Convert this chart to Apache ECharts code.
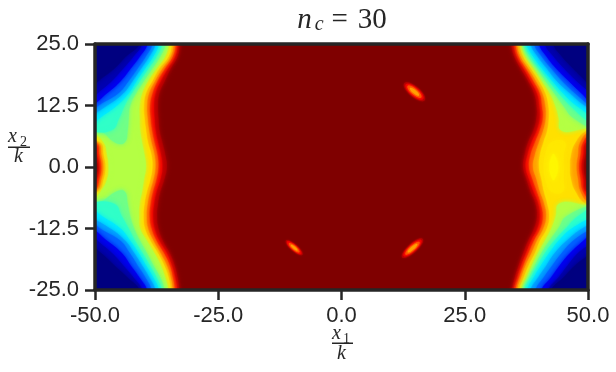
<!DOCTYPE html>
<html><head><meta charset="utf-8">
<style>html,body{margin:0;padding:0;background:#fff}#c{width:616px;height:372px}</style>
<script src="https://cdn.jsdelivr.net/npm/echarts@6/dist/echarts.min.js"></script></head>
<body><div id="c"></div>
<script>
const xTicks=[-50,-25,0,25,50];
const yTicks=[-25,-12.5,0,12.5,25];
const rows=[25,22.5,20,17.5,15,12.5,10,7.5,5,2.5,0,-2.5,-5,-7.5,-10,-12.5,-15,-17.5,-20,-22.5,-25];
const _=null;
// x position where the field crosses each contour level, per row: left band
const left1=[-32.9,-33.3,-34.7,-35.9,-37,-37.3,-37.2,-37,-36.4,-35.8,-35.5,-36,-36.8,-37.3,-37.5,-37.2,-36.3,-34.9,-33.9,-33.3,-33];
const left2=[-33.3,-33.8,-35.3,-36.7,-37.8,-38.1,-38,-37.8,-37.3,-36.7,-36.4,-36.8,-37.6,-38.1,-38.3,-38,-37,-35.5,-34.5,-33.8,-33.4];
const left3=[-33.7,-34.3,-35.9,-37.4,-38.4,-38.9,-38.8,-38.5,-38,-37.4,-37.2,-37.6,-38.3,-38.8,-39,-38.6,-37.6,-36.1,-34.9,-34.3,-33.9];
const left4=[-34.1,-34.7,-36.4,-37.9,-39.1,-39.5,-39.4,-39.1,-38.6,-38,-37.8,-38.2,-38.9,-39.4,-39.6,-39.3,-38.2,-36.8,-35.5,-34.7,-34.3];
const left5=[-34.5,-35.1,-37,-38.4,-39.7,-40.1,-40,-39.7,-39.3,-38.6,-38.4,-38.8,-39.5,-40,-40.2,-39.9,-38.8,-37.3,-36,-35.1,-34.7];
const left6=[-35.1,-35.8,-37.6,-39.3,-40.5,-41,-41,-40.9,-40.5,-40,-39.7,-40.1,-40.5,-41,-41.1,-40.9,-39.5,-38,-36.7,-35.8,-35.2];
const left7=[-35.7,-36.8,-38.4,-40.1,-41.7,-42.9,-43.2,-43.4,-44,_,_,_,-44,-43.4,-42.9,-42.1,-40.9,-39.5,-38.2,-36.8,-36];
const left8=[-36.4,-37.5,-39.2,-40.9,-42.6,-44,-45.1,-46.6,_,_,_,_,_,-46.1,-44.6,-43.2,-41.9,-40.4,-38.9,-37.5,-36.5];
const left9=[-37.1,-38.2,-39.9,-41.6,-43.2,-45.6,-49,-52,_,_,_,_,_,-52,-48.6,-44.9,-42.9,-41.2,-39.7,-38.2,-37.1];
const left10=[-37.8,-39,-40.7,-42.4,-44.3,-47.6,-52,_,_,_,_,_,_,_,-52,-47,-43.9,-42.1,-40.5,-39,-37.8];
const left11=[-38.4,-39.7,-41.4,-43.2,-45.3,-49.3,-52,_,_,_,_,_,_,_,-52,-49,-44.9,-43,-41.4,-39.8,-38.6];
const left12=[-39.4,-40.9,-42.8,-44.8,-47.6,-51,_,_,_,_,_,_,_,_,_,-51,-47.6,-44.6,-42.8,-41,-39.5];
const left13=[-40.5,-42.2,-44.3,-46.6,-49.5,-52,_,_,_,_,_,_,_,_,_,-52,-49.5,-46.6,-44.3,-42.2,-40.5];
const left14=[-41,-43.7,-46.1,-49.3,-52,_,_,_,_,_,_,_,_,_,_,_,-52,-48.8,-46.1,-43.4,-41];
// outer crossing near the mid-height bulge, rows y = 7.5 .. -7.5
const leftOuter1=[_,-51,-50.1,-49.3,-50.1,-52,_];
const leftOuter2=[_,-50.2,-49.5,-49,-49.5,-51,_];
const leftOuter3=[_,-49.5,-49,-48.6,-49,-50,_];
const leftOuter4=[_,-49.2,-48.6,-48.2,-48.6,-49.6,_];
const leftOuter5=[_,-48.8,-48.2,-47.8,-48.2,-49.2,_];
const leftOuter6=[-51,-48.2,-47.5,-47.2,-47.5,-48.8,-51];
const leftOuter7=[-49,-45.9,_,_,_,-45.6,-49.3];
const leftOuter8=[-51,_,_,_,_,_,-51];
// right band
const right1=[34.5,35.1,36.4,37.9,39.1,39.6,39.6,39,37.9,37.2,36.9,37.6,38.4,39.4,39.7,39.1,37.9,36.9,36,35.2,34.7];
const right2=[35,35.6,37,38.4,39.7,40.2,40.3,39.7,38.6,37.8,37.4,38.1,39,40,40.3,39.8,38.5,37.5,36.5,35.7,35];
const right3=[35.4,36,37.5,39,40.3,40.7,40.9,40.3,39.3,38.4,38.1,38.8,39.7,40.5,40.9,40.4,39.1,38,37,36.1,35.4];
const right4=[35.7,36.4,38,39.5,40.8,41.4,41.5,41,40.1,39.3,38.9,39.6,40.3,41.2,41.6,41,39.7,38.6,37.4,36.5,35.7];
const right5=[36.2,36.9,38.5,40.1,41.4,42,42.1,41.8,41,40.3,40.1,40.6,41.1,41.8,42.2,41.7,40.3,39.3,38,37,36.1];
const right5b=[_,_,_,_,_,_,_,_,42.6,41.4,41.1,41.4,42.6,_,_,_,_,_,_,_,_];
const right5c=[_,_,_,_,_,_,_,_,_,42.8,42.2,42.8,_,_,_,_,_,_,_,_,_];
const right6=[36.6,37.4,39.1,40.7,42.3,43.4,44.1,44.5,_,_,_,_,_,44.1,43.5,42.6,41.3,39.9,38.7,37.6,36.6];
const right7=[36.9,37.9,39.7,41.4,43.2,45,47,52,_,_,_,_,_,52,45.7,44,42.2,40.6,39.3,38,36.9];
const right8=[37.2,38.4,40.2,42.1,44.1,46.4,49.1,52.5,_,_,_,_,_,52.5,48,45.5,43.2,41.3,39.8,38.4,37.2];
const right9=[37.6,38.9,40.7,42.8,45,47.7,52,_,_,_,_,_,_,_,52,46.8,44.1,42.2,40.5,39,37.7];
const right10=[38.4,39.8,41.7,43.7,46.4,49.4,54,_,_,_,_,_,_,_,54,48.9,45.7,43.3,41.6,39.9,38.4];
const right11=[39.1,40.6,42.6,44.8,47.4,50.4,54,_,_,_,_,_,_,_,54,50.7,47,44.7,42.8,41,39.4];
const right12=[40.1,41.6,43.6,46.1,48.7,51.4,_,_,_,_,_,_,_,_,_,52,49.1,46.4,44.3,42.5,40.6];
const right13=[41.3,43,45.2,47.7,50.4,52,_,_,_,_,_,_,_,_,_,52,51,48,45.9,44,42];
const right14=[43,44.7,47,49.5,52,_,_,_,_,_,_,_,_,_,_,_,52,50.4,47.4,45,42.6];
const rightOuter1=[_,50.2,49.4,49.05,49.4,50.2,_];
const rightOuter2=[_,49.5,49,48.6,49,49.4,_];
const rightOuter3=[51,48.9,48.4,48.1,48.4,48.9,51];
const rightOuter4=[50.3,48.3,47.9,47.6,47.9,48.4,50.2];
const rightOuter5=[49.7,47.4,46.5,46.3,46.5,47.4,49.4];
const rightOuter5b=[_,45.3,45,45,45,44.8,_];
const rightOuter5c=[_,_,43.2,43.9,43.2,_,_];
const rightOuter6=[47.7,_,_,_,_,_,48];
// small islands: centre, semi-axes per level, tilt in degrees
const blobX=[14.8,-9.6,14.4];
const blobY=[15.3,-16.4,-16.5];
const blobTilt=[-40,-41,42];
const blobLong=[[2.7,2.3,1.8,1.2],[2.2,1.9,1.4,0.9],[2.8,2.4,1.9,1.3]];
const blobShort=[[1.05,0.85,0.62,0.35],[0.65,0.55,0.4,0.22],[0.9,0.72,0.52,0.3]];

const colors={1:'#b00000',2:'#f00000',3:'#ff5000',4:'#ffa000',5:'#ffe000','5b':'#ffe800','5c':'#fff700',6:'#b4ff44',7:'#70ff88',8:'#30ffc8',9:'#00eaff',10:'#00a8ff',11:'#0064ff',12:'#0000f0',13:'#0000b0',14:'#000080'};
const EDGE=55;
const polys=[];
function addBand(inner,outerMid,sign,color){
  let run=[];
  const flush=()=>{
    if(!run.length)return;
    const pts=[];
    if(run[0].y===25)pts.push([run[0].i,28]);
    run.forEach(r=>pts.push([r.i,r.y]));
    if(run[run.length-1].y===-25)pts.push([run[run.length-1].i,-28]);
    const back=[];
    if(run[0].y===25)back.push([sign*EDGE,28]);
    run.forEach(r=>back.push([r.o,r.y]));
    if(run[run.length-1].y===-25)back.push([sign*EDGE,-28]);
    polys.push({pts:pts.concat(back.reverse()),color});
    run=[];
  };
  rows.forEach((y,k)=>{
    if(inner[k]===null){flush();return;}
    const m=(k>=7&&k<=13&&outerMid)?outerMid[k-7]:null;
    run.push({y,i:inner[k],o:m===null?sign*EDGE:m});
  });
  flush();
}
[[left1,leftOuter1,1],[left2,leftOuter2,2],[left3,leftOuter3,3],[left4,leftOuter4,4],[left5,leftOuter5,5],[left6,leftOuter6,6],[left7,leftOuter7,7],[left8,leftOuter8,8],[left9,_,9],[left10,_,10],[left11,_,11],[left12,_,12],[left13,_,13],[left14,_,14]]
 .forEach(a=>addBand(a[0],a[1],-1,colors[a[2]]));
[[right1,rightOuter1,1],[right2,rightOuter2,2],[right3,rightOuter3,3],[right4,rightOuter4,4],[right5,rightOuter5,5],[right5b,rightOuter5b,'5b'],[right5c,rightOuter5c,'5c'],[right6,rightOuter6,6],[right7,_,7],[right8,_,8],[right9,_,9],[right10,_,10],[right11,_,11],[right12,_,12],[right13,_,13],[right14,_,14]]
 .forEach(a=>addBand(a[0],a[1],1,colors[a[2]]));

const blobItems=[];
blobX.forEach((x,b)=>blobLong[b].forEach((l,k)=>blobItems.push([x,blobY[b],l,blobShort[b][k],blobTilt[b],k+1])));

const dark='#262626';
function axisBase(){return {axisLine:{show:true,onZero:false,lineStyle:{color:dark,width:3.5}},splitLine:{show:false},z:10};}
const chart=echarts.init(document.getElementById('c'),null,{renderer:'canvas'});
const serif='"Liberation Serif","DejaVu Serif",serif';
const sans='"Liberation Sans",Arial,sans-serif';
chart.setOption({
  animation:false,
  backgroundColor:'#fff',
  title:{text:'{n|n}{c|c}{q|=}{e|30}',left:337,top:0,textAlign:'center',
    textStyle:{fontWeight:'normal',rich:{
      n:{fontFamily:serif,fontStyle:'italic',fontWeight:'normal',fontSize:29,color:dark,padding:[0,3,0,0]},
      c:{fontFamily:serif,fontStyle:'italic',fontWeight:'normal',fontSize:20,color:dark,padding:[10,0,0,0]},
      q:{fontFamily:serif,fontWeight:'normal',fontSize:29,color:dark,padding:[0,10,0,8]},
      e:{fontFamily:serif,fontWeight:'normal',fontSize:29,color:dark}}}},
  grid:{left:95,right:28,top:44,bottom:82,show:true,backgroundColor:'#7f0000',borderWidth:0},
  xAxis:[
    Object.assign(axisBase(),{type:'value',min:-50,max:50,interval:25,position:'bottom',
      axisTick:{show:true,length:10,lineStyle:{color:dark,width:2.5}},
      axisLabel:{color:dark,fontSize:22,fontFamily:sans,margin:15,showMinLabel:true,showMaxLabel:true,hideOverlap:false,formatter:v=>v.toFixed(1)}}),
    Object.assign(axisBase(),{type:'value',min:-50,max:50,position:'top',axisTick:{show:false},axisLabel:{show:false}})
  ],
  yAxis:[
    Object.assign(axisBase(),{type:'value',min:-25,max:25,interval:12.5,position:'left',
      axisTick:{show:true,length:10,lineStyle:{color:dark,width:2.5}},
      axisLabel:{color:dark,fontSize:22,fontFamily:sans,margin:16,padding:[4,0,0,0],showMinLabel:true,showMaxLabel:true,hideOverlap:false,formatter:v=>v.toFixed(1)}}),
    Object.assign(axisBase(),{type:'value',min:-25,max:25,position:'right',axisTick:{show:false},axisLabel:{show:false}})
  ],
  series:[
    {type:'custom',name:'contours',clip:true,coordinateSystem:'cartesian2d',silent:true,
     data:polys.map((p,i)=>[i]),encode:{x:[],y:[]},
     renderItem:(params,api)=>{
       const p=polys[api.value(0)];
       return {type:'polygon',shape:{points:p.pts.map(q=>api.coord(q)),smooth:0.45},style:{fill:p.color,stroke:p.color,lineWidth:0.5,shadowBlur:5,shadowColor:p.color}};
     }},
    {type:'custom',name:'islands',clip:true,coordinateSystem:'cartesian2d',silent:true,
     data:blobItems,encode:{x:0,y:1},
     renderItem:(params,api)=>{
       const c=api.coord([api.value(0),api.value(1)]);
       const s=api.size([api.value(2),api.value(3)]);
       const col=colors[api.value(5)];
       return {type:'ellipse',x:c[0],y:c[1],rotation:api.value(4)*Math.PI/180,
         shape:{cx:0,cy:0,rx:s[0],ry:s[1]},style:{fill:col,shadowBlur:2,shadowColor:col}};
     }}
  ],
  graphic:[
    {type:'text',x:332,y:324,style:{text:'x',font:'italic 20px '+serif,fill:dark}},
    {type:'text',x:343,y:332,style:{text:'1',font:'14px '+serif,fill:dark}},
    {type:'rect',shape:{x:332,y:342.5,width:21,height:1.5},style:{fill:dark}},
    {type:'text',x:337,y:344,style:{text:'k',font:'italic 20px '+serif,fill:dark}},
    {type:'text',x:8,y:127,style:{text:'x',font:'italic 20px '+serif,fill:dark}},
    {type:'text',x:20,y:135,style:{text:'2',font:'14px '+serif,fill:dark}},
    {type:'rect',shape:{x:8,y:146.5,width:22,height:1.5},style:{fill:dark}},
    {type:'text',x:14,y:147,style:{text:'k',font:'italic 20px '+serif,fill:dark}}
  ]
});
</script></body></html>
